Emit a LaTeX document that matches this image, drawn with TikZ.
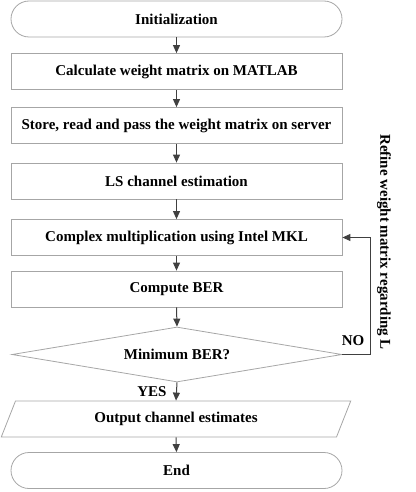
\documentclass[tikz,border=0pt]{standalone}
\usepackage{fontspec}
\setmainfont{Liberation Serif}
\usetikzlibrary{shapes.geometric,shapes.misc,arrows.meta}

\tikzset{
  box/.style={draw=gray!70,line width=0.8pt,minimum width=331pt,minimum height=36pt,inner sep=0pt,font=\bfseries\fontsize{15}{17}\selectfont},
  term/.style={box,rounded rectangle},
  decide/.style={box,diamond,aspect=6,minimum width=330pt,minimum height=55pt},
  io/.style={box,trapezium,trapezium left angle=62,trapezium right angle=118,trapezium stretches=true,minimum width=350pt},
  flow/.style={-{Triangle[width=7pt,length=8pt]},draw=black!75,line width=1pt},
  lbl/.style={font=\bfseries\fontsize{15}{17}\selectfont}
}

\begin{document}
\begin{tikzpicture}[x=1pt,y=-1pt]
\useasboundingbox (0,0) rectangle (415,492);

\node[term] (S) at (176.5,19) {Initialization};

 \foreach \y/\t [count=\n] in
      {71.5/Calculate weight matrix on MATLAB,125.5/{Store, read and pass the weight matrix on server},181/LS channel estimation,237.5/Complex multiplication using Intel MKL,289/Compute BER}
         \node[box] (N\n) at (176.5,\y) {\t};

\node[decide] (D) at (177,354.5) {Minimum BER?};
\node[io] (O) at (176,419) {Output channel estimates};
\node[term] (E) at (176.5,470.5) {End};

\draw[flow] (S.south) -- (N1.north);
\draw[flow] (N1.south) -- (N2.north);
\draw[flow] (N2.south) -- (N3.north);
\draw[flow] (N3.south) -- (N4.north);
\draw[flow] (N4.south) -- (N5.north);
\draw[flow] (N5.south) -- (D.north);
\draw[flow] (D.south) -- (O.north);
\draw[flow] (O.south) -- (E.north);

\draw[flow] (D.east) -- ++(28,0) |- (N4.east);

\node[lbl] (no) at (353,341) {NO};
\node[lbl] (yes) at (152,392) {YES};
\node[lbl,rotate=-90] (refine) at (384,242) {Refine weight matrix regarding L};
\end{tikzpicture}
\end{document}
